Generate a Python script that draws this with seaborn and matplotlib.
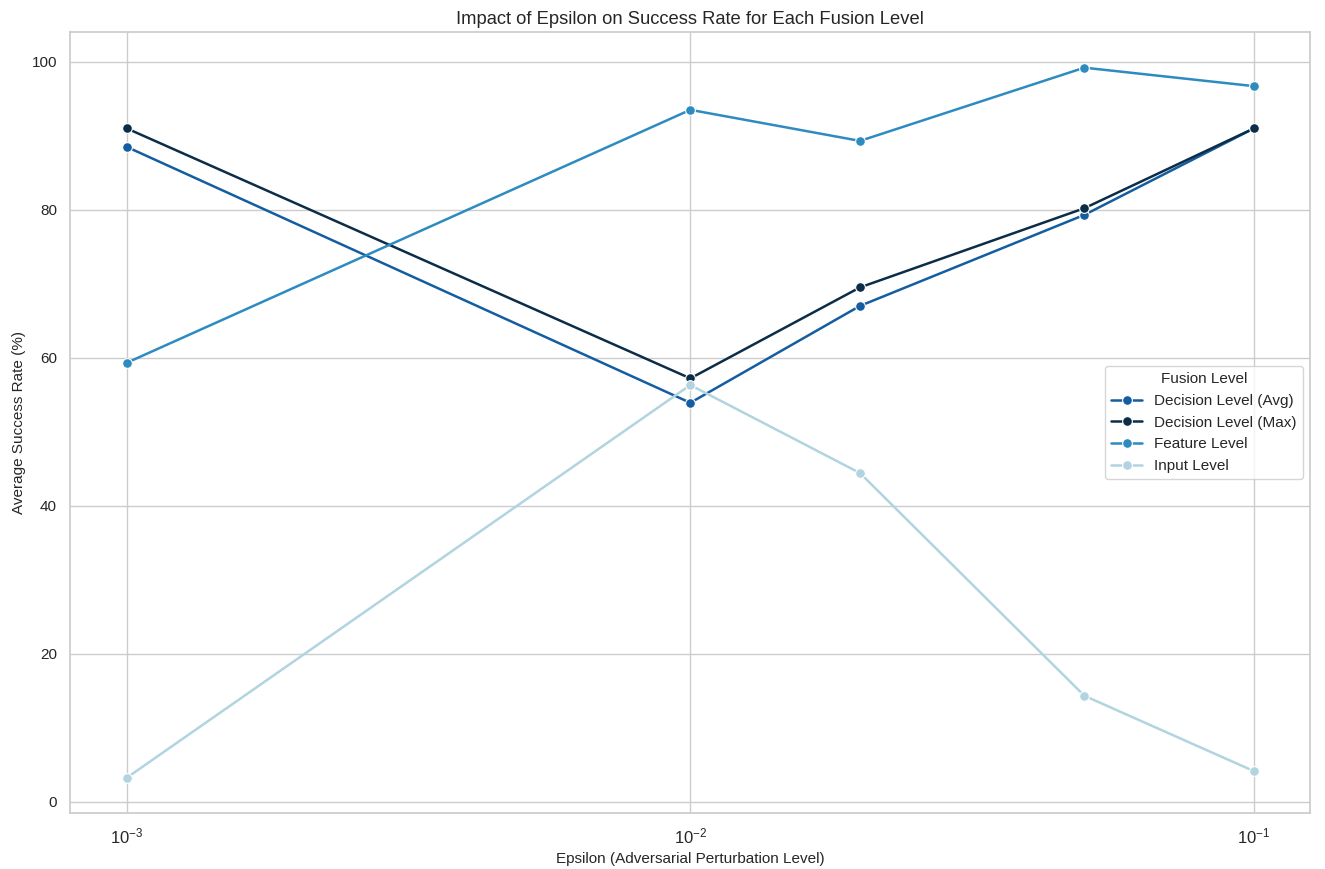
import pandas as pd
import matplotlib.pyplot as plt
import seaborn as sns

# Data
epsilons = [0.001, 0.01, 0.02, 0.05, 0.1]
decision_avg = [88.5, 53.9, 67.0, 79.3, 91.0]
decision_max = [91.0, 57.2, 69.5, 80.2, 91.0]
feature_level = [59.3, 93.5, 89.3, 99.2, 96.7]
input_level = [3.2, 56.3, 44.4, 14.3, 4.1]

levels = ['Decision Level (Avg)', 'Decision Level (Max)', 'Feature Level', 'Input Level']
colors = {'Decision Level (Avg)': '#145DA0', 'Decision Level (Max)': '#0C2D48',
          'Feature Level': '#2E8BC0', 'Input Level': '#B1D4E0'}

rows = []
for name, vals in zip(levels, [decision_avg, decision_max, feature_level, input_level]):
    for e, v in zip(epsilons, vals):
        rows.append({'Epsilon': e, 'Success Rate': v, 'Fusion Level': name})
df = pd.DataFrame(rows)

sns.set_theme(style='whitegrid')
plt.rcParams['font.family'] = ['Liberation Sans', 'DejaVu Sans']

fig, ax = plt.subplots(figsize=(13.25, 8.69), dpi=100)
sns.lineplot(data=df, x='Epsilon', y='Success Rate', hue='Fusion Level', hue_order=levels,
             palette=colors, marker='o', markersize=7, linewidth=1.8, markeredgecolor='white',
             markeredgewidth=0.8, ax=ax)
ax.set_xscale('log')
ax.set_title('Impact of Epsilon on Success Rate for Each Fusion Level', fontsize=13.2)
ax.set_xlabel('Epsilon (Adversarial Perturbation Level)', fontsize=11)
ax.set_ylabel('Average Success Rate (%)', fontsize=11)
ax.tick_params(axis='y', labelsize=11)
ax.tick_params(axis='x', labelsize=12)
ax.legend(title='Fusion Level', loc='center right', fontsize=11, title_fontsize=11)

plt.subplots_adjust(left=0.053, right=0.989, top=0.963, bottom=0.064)
plt.savefig('out.png')
